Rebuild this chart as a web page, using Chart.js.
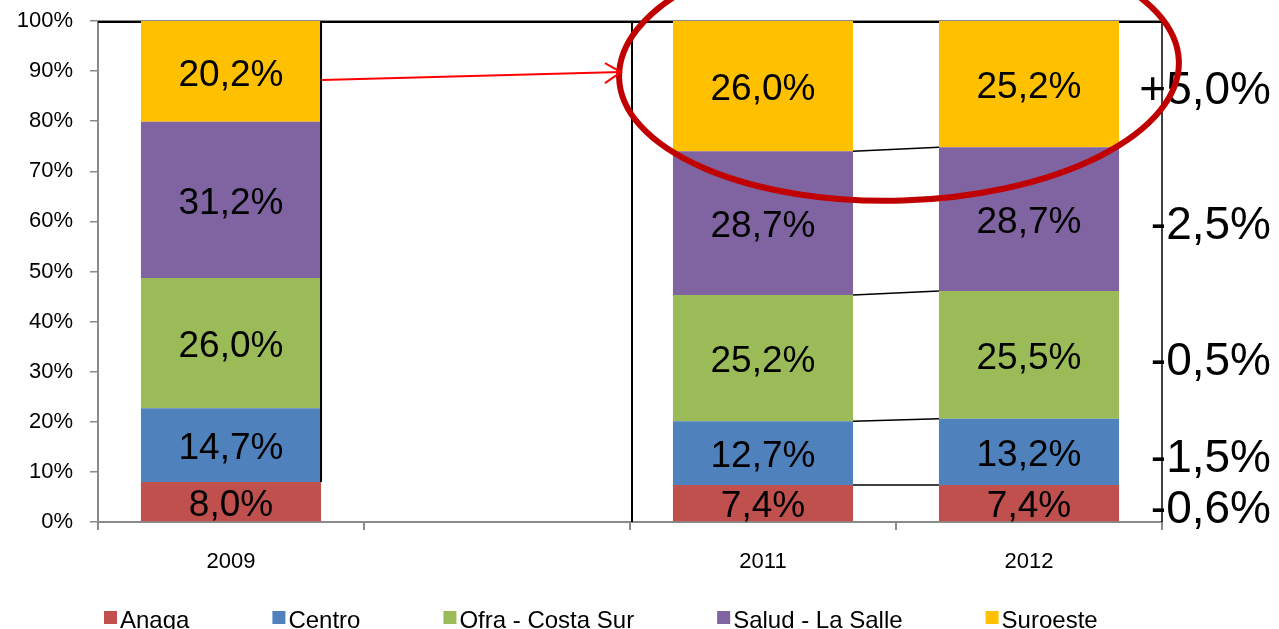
<!DOCTYPE html>
<html><head><meta charset="utf-8">
<script src="https://cdn.jsdelivr.net/npm/chart.js@4.4.1/dist/chart.umd.min.js"></script>
<style>html,body{margin:0;padding:0;background:#fff;}#wrap{width:1279px;height:629px;position:relative;}</style>
</head><body><div id="wrap"><canvas id="c"></canvas></div>
<script>
const categories = ['2009', '', '2011', '2012'];
const seriesNames = ['Anaga', 'Centro', 'Ofra - Costa Sur', 'Salud - La Salle', 'Suroeste'];
const anaga    = [8.0,  null, 7.4,  7.4];
const centro   = [14.7, null, 12.7, 13.2];
const ofra     = [26.0, null, 25.2, 25.5];
const salud    = [31.2, null, 28.7, 28.7];
const suroeste = [20.2, null, 26.0, 25.2];
const changeLabels = ['-0,6%', '-1,5%', '-0,5%', '-2,5%', '+5,0%'];
const yTickValues = [0, 10, 20, 30, 40, 50, 60, 70, 80, 90, 100];
const seriesColors = ['#C0504D', '#4F81BD', '#9BBB59', '#8064A2', '#FFC000'];

const series = [anaga, centro, ofra, salud, suroeste];
const FONT = "'Liberation Sans', Arial, sans-serif";
const fmt = v => v.toFixed(1).replace('.', ',') + '%';
const cumTop = (j, i) => { let s = 0; for (let k = 0; k <= i; k++) s += series[k][j] || 0; return s; };

const overlay = {
  id: 'overlay',
  beforeDatasetsDraw(chart) {
    const {ctx, chartArea: a, scales: {x}} = chart;
    ctx.save();
    ctx.strokeStyle = '#000';
    ctx.lineWidth = 2;
    ctx.beginPath(); ctx.moveTo(a.left, a.top + 1); ctx.lineTo(a.right, a.top + 1); ctx.stroke();
    const bx = (x.getPixelForValue(1) + x.getPixelForValue(2)) / 2 + 2;
    ctx.beginPath(); ctx.moveTo(bx, a.top); ctx.lineTo(bx, a.bottom); ctx.stroke();
    ctx.lineWidth = 1.5;
    ctx.beginPath(); ctx.moveTo(a.right, a.top); ctx.lineTo(a.right, a.bottom); ctx.stroke();
    ctx.restore();
  },
  afterDatasetsDraw(chart) {
    const {ctx, chartArea: a, scales: {x, y}} = chart;
    ctx.save();
    ctx.strokeStyle = '#8a8a8a'; ctx.lineWidth = 1;
    ctx.beginPath(); ctx.moveTo(a.left, a.top - 0.5); ctx.lineTo(a.right, a.top - 0.5); ctx.stroke();

    const e09 = chart.getDatasetMeta(0).data[0];
    const xr09 = e09.x + e09.width / 2;
    ctx.strokeStyle = '#000'; ctx.lineWidth = 2;
    ctx.beginPath(); ctx.moveTo(xr09, a.top); ctx.lineTo(xr09, y.getPixelForValue(cumTop(0, 0))); ctx.stroke();

    ctx.lineWidth = 1.5;
    for (let i = 0; i < series.length - 1; i++) {
      const e1 = chart.getDatasetMeta(i).data[2];
      const e2 = chart.getDatasetMeta(i).data[3];
      ctx.beginPath();
      ctx.moveTo(e1.x + e1.width / 2, y.getPixelForValue(cumTop(2, i)));
      ctx.lineTo(e2.x - e2.width / 2, y.getPixelForValue(cumTop(3, i)));
      ctx.stroke();
    }

    ctx.fillStyle = '#000';
    ctx.font = '37px ' + FONT;
    ctx.textAlign = 'center'; ctx.textBaseline = 'middle';
    series.forEach((s, i) => {
      const meta = chart.getDatasetMeta(i);
      s.forEach((v, j) => {
        if (v == null) return;
        const el = meta.data[j];
        const top = Math.max(el.y, a.top);
        ctx.fillText(fmt(v), el.x, (top + el.base) / 2 + 4);
      });
    });

    ctx.font = '46px ' + FONT;
    ctx.textAlign = 'right';
    series.forEach((s, i) => {
      const el = chart.getDatasetMeta(i).data[3];
      const top = Math.max(el.y, a.top);
      ctx.fillText(changeLabels[i], a.right + 109, (top + el.base) / 2 + 7);
    });

    const e11 = chart.getDatasetMeta(4).data[2];
    const e12 = chart.getDatasetMeta(4).data[3];
    const cx = (e11.x + e12.x) / 2 + 3;
    const cy = y.getPixelForValue(90.3);
    const rx = 280, ry = 131;
    ctx.strokeStyle = '#C00000'; ctx.lineWidth = 6;
    ctx.beginPath(); ctx.ellipse(cx, cy, rx, ry, -0.03, 0, Math.PI * 2); ctx.stroke();

    const sx = xr09 + 1, sy = y.getPixelForValue(88.2);
    const tx = cx - rx + 2, ty = y.getPixelForValue(89.8);
    ctx.strokeStyle = '#FF0000'; ctx.lineWidth = 2;
    ctx.beginPath(); ctx.moveTo(sx, sy); ctx.lineTo(tx, ty); ctx.stroke();
    ctx.beginPath(); ctx.moveTo(tx - 16, ty - 9); ctx.lineTo(tx, ty); ctx.lineTo(tx - 16, ty + 11); ctx.stroke();

    ctx.font = '24px ' + FONT;
    ctx.textAlign = 'left'; ctx.textBaseline = 'alphabetic';
    let lx = 104;
    chart.data.datasets.forEach(ds => {
      ctx.fillStyle = ds.backgroundColor;
      ctx.fillRect(lx, 611, 13, 13);
      ctx.fillStyle = '#000';
      ctx.fillText(ds.label, lx + 16, 628);
      lx += 16 + ctx.measureText(ds.label).width + 83;
    });
    ctx.restore();
  }
};

new Chart(document.getElementById('c'), {
  type: 'bar',
  data: {
    labels: categories,
    datasets: series.map((s, i) => ({
      label: seriesNames[i], data: s, backgroundColor: seriesColors[i],
      borderWidth: 0, categoryPercentage: 1, barPercentage: 0.677
    }))
  },
  options: {
    responsive: true, maintainAspectRatio: false, animation: false,
    devicePixelRatio: 1,
    layout: {padding: {top: 21, right: 117, left: 0, bottom: 0}},
    plugins: {legend: {display: false}, tooltip: {enabled: false}},
    scales: {
      x: {
        stacked: true,
        grid: {display: true, drawOnChartArea: false, drawTicks: true, tickLength: 8, color: '#8a8a8a', lineWidth: 2, offset: true},
        border: {display: true, color: '#8a8a8a', width: 2},
        ticks: {color: '#000', font: {family: FONT, size: 22}, padding: 19, maxRotation: 0, autoSkip: false},
        afterFit(s) { s.height = 107; s.paddingLeft = 0; s.paddingRight = 0; }
      },
      y: {
        stacked: true, min: 0, max: 100,
        afterBuildTicks(s) { s.ticks = yTickValues.map(v => ({value: v})); },
        grid: {display: true, drawOnChartArea: false, drawTicks: true, tickLength: 8, color: '#8a8a8a', lineWidth: 1.5},
        border: {display: true, color: '#8a8a8a', width: 2},
        ticks: {color: '#000', font: {family: FONT, size: 22}, padding: 17, callback: v => v + '%'},
        afterFit(s) { s.width = 98; s.paddingTop = 0; s.paddingBottom = 0; }
      }
    }
  },
  plugins: [overlay]
});
</script></body></html>
